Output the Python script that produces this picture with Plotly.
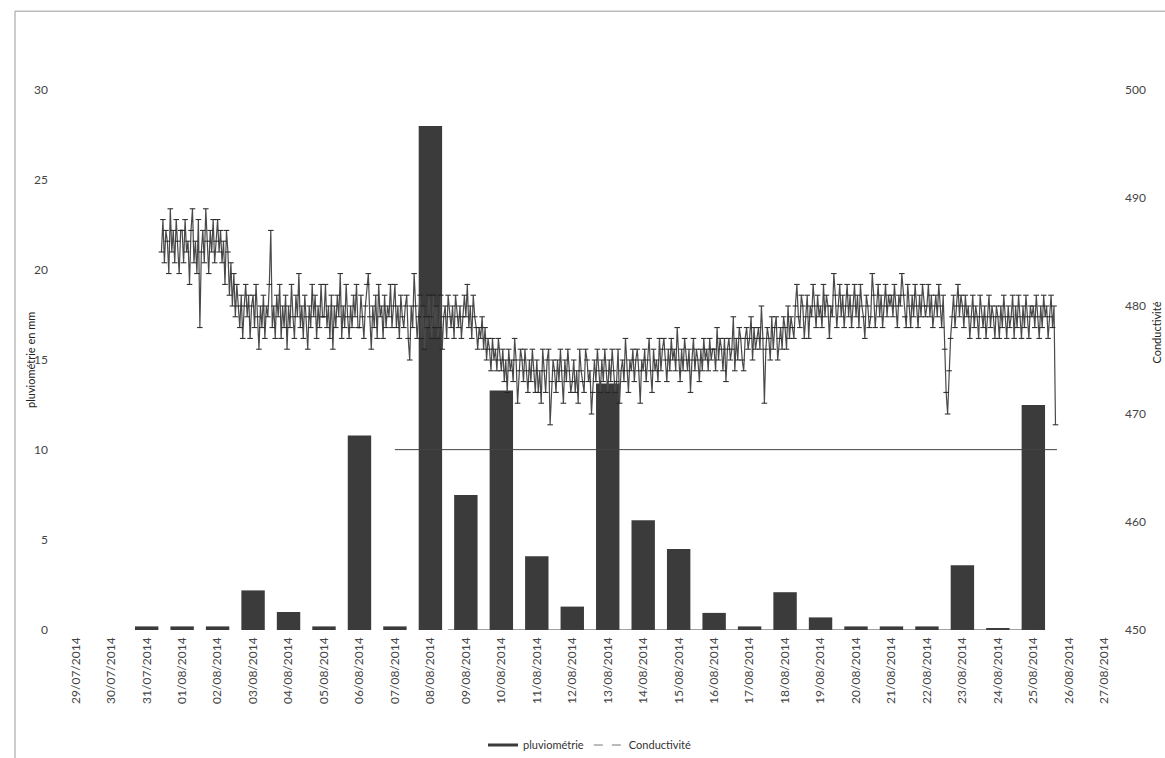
import pandas as pd
import plotly.graph_objects as go

# ---------------- data ----------------
jours = list(pd.date_range("2014-07-29", "2014-08-27", freq="D"))
etiquettes = [d.strftime("%d/%m/%Y") for d in jours]

pluviometrie = [0, 0, 0.2, 0.2, 0.2, 2.2, 1.0, 0.2, 10.8, 0.2,
                28.0, 7.5, 13.3, 4.1, 1.3, 13.7, 6.1, 4.5, 0.95, 0.2,
                2.1, 0.7, 0.2, 0.2, 0.2, 3.6, 0.1, 12.5, 0, 0]

# conductivity, hourly readings from 31/07 10:00 (one string per day)
cond_debut = "2014-07-31 10:00"
cond_jours = [
    "485 488 484 487 486 483 489 485 487 484 488 486 483 487",                               # 31/07
    "487 484 488 485 486 482 487 489 484 486 483 488 478 485 487 484 489 486 483 487 485 488 484 486",  # 01/08
    "488 485 487 484 486 482 487 485 481 484 480 483 479 482 480 478 481 477 480 482 479 481 477 480",  # 02/08
    "481 478 482 479 476 480 478 481 477 480 479 482 487 478 480 477 481 479 482 477 480 478 481 476",  # 03/08
    "480 478 482 479 477 481 479 483 478 480 477 481 479 476 480 478 482 479 481 477 480 478 482 479",  # 04/08
    "479 482 478 480 477 481 476 480 478 481 479 483 477 480 478 482 479 477 480 478 481 479 482 478",  # 05/08
    "478 481 479 477 480 482 483 479 476 480 478 481 477 482 479 480 477 481 478 480 479 482 478 480",  # 06/08
    "482 478 480 477 481 479 478 480 481 477 475 480 478 483 480 477 479 481 477 480 476 479 478 481",  # 07/08
    "479 477 481 478 480 477 478 481 476 479 480 477 481 479 478 480 477 481 479 478 480 477 479 481",  # 08/08
    "479 482 478 480 477 481 479 478 476 478 477 479 476 478 475 477 476 474 477 475 476 474 477 475",  # 09/08
    "474 476 473 475 472 476 474 475 473 477 475 471 474 476 475 473 476 474 472 475 473 476 474 472",  # 10/08
    "475 472 474 471 476 474 472 475 476 469 473 475 474 472 475 473 476 474 471 475 473 476 474 472",  # 11/08
    "473 475 472 474 471 476 474 473 472 476 475 473 474 470 472 475 473 476 474 472 475 473 476 474",  # 12/08
    "472 475 473 476 474 472 473 476 471 474 475 473 477 474 472 475 474 476 473 475 476 474 471 475",  # 13/08
    "474 476 473 475 477 474 472 476 474 475 473 477 474 476 477 475 473 476 474 477 475 476 474 478",  # 14/08
    "475 473 476 474 477 475 474 476 472 475 477 474 476 475 473 476 474 477 475 476 474 477 475 476",  # 15/08
    "476 474 478 475 477 476 474 477 473 476 477 475 476 479 474 477 475 478 477 475 474 477 478 476",  # 16/08
    "477 479 475 478 476 477 478 476 480 477 471 476 478 477 475 479 476 478 479 475 477 478 476 479",  # 17/08
    "478 476 480 477 479 478 477 480 482 479 478 481 480 477 479 481 477 480 479 482 480 478 481 479",  # 18/08
    "480 478 482 479 481 480 477 480 479 483 481 478 480 482 479 481 478 480 482 479 481 478 480 482",  # 19/08
    "479 481 478 482 480 479 477 481 480 478 479 483 481 478 480 482 479 481 478 480 482 479 481 480",  # 20/08
    "481 479 482 480 478 481 480 483 481 479 478 482 480 478 481 479 482 480 478 481 479 482 480 479",  # 21/08
    "480 482 479 481 478 480 481 479 482 480 478 481 476 472 470 474 477 479 481 478 480 482 479 481",  # 22/08
    "480 478 481 479 480 477 479 481 478 480 479 477 481 479 478 480 477 479 481 478 480 479 477 480",  # 23/08
    "479 477 480 478 481 479 477 480 478 479 481 477 480 478 481 479 477 480 478 481 479 477 480 479",  # 24/08
    "480 478 481 479 477 480 478 481 479 480 477 479 481 478 480 469",                            # 25/08
]
conductivite = [int(v) for jour in cond_jours for v in jour.split()]
cond_temps = list(pd.date_range(cond_debut, periods=len(conductivite), freq="h"))

# auxiliary straight segments seen in the chart (conductivity scale)
ligne_x = ["2014-08-07 00:00", "2014-08-25 16:00", None,
           "2014-08-08 12:00", "2014-08-25 00:00"]
ligne_y = [466.7, 466.7, None, 450, 450]

# ---------------- figure ----------------
bar_col = "#3b3b3b"
fig = go.Figure()

fig.add_trace(go.Bar(
    x=jours, y=pluviometrie, name="pluviométrie",
    marker=dict(color=bar_col, line=dict(width=0)),
    width=0.66 * 86400000, showlegend=False, yaxis="y",
))
fig.add_trace(go.Scatter(
    x=cond_temps, y=conductivite, name="Conductivité", yaxis="y2",
    mode="lines+markers",
    line=dict(color="#4a4a4a", width=1.2),
    marker=dict(symbol="line-ew", size=4, line=dict(color="#222", width=1)),
    showlegend=False,
))
fig.add_trace(go.Scatter(
    x=ligne_x, y=ligne_y, yaxis="y2", mode="lines",
    line=dict(color="#444", width=1), showlegend=False, hoverinfo="skip",
))
# legend entries
fig.add_trace(go.Scatter(x=[None], y=[None], mode="lines", name="pluviométrie",
                         line=dict(color=bar_col, width=3)))
fig.add_trace(go.Scatter(x=[None], y=[None], mode="lines", name="Conductivité",
                         line=dict(color="#777", width=1, dash="dash")))

tick_font = dict(family="Lato, 'Open Sans', sans-serif", size=12, color="#444")

fig.update_layout(
    width=1165, height=758,
    margin=dict(l=58, r=43, t=90, b=128, autoexpand=False),
    paper_bgcolor="white", plot_bgcolor="white",
    xaxis=dict(
        type="date", automargin=False,
        range=["2014-07-28 12:00", "2014-08-27 12:00"],
        tickvals=jours, ticktext=etiquettes, tickangle=-90,
        tickfont=tick_font, showgrid=False, zeroline=False, showline=False,
        ticks="", ticklabelstandoff=4,
    ),
    yaxis=dict(
        range=[0, 30], tickvals=[0, 5, 10, 15, 20, 25, 30], automargin=False,
        tickfont=tick_font, showgrid=False, zeroline=False, showline=False,
        ticks="", ticklabelstandoff=9,
    ),
    yaxis2=dict(
        range=[450, 500], tickvals=[450, 460, 470, 480, 490, 500],
        overlaying="y", side="right", automargin=False,
        tickfont=tick_font, showgrid=False, zeroline=False, showline=False,
        ticks="", ticklabelstandoff=2,
    ),
    legend=dict(orientation="h", x=0.5, xanchor="center", y=-0.213,
                yanchor="middle", font=dict(family="Lato, sans-serif", size=11, color="#333"),
                itemwidth=30, bgcolor="rgba(0,0,0,0)"),
    annotations=[
        dict(text="pluviométrie en mm", xref="paper", yref="paper",
             x=-0.0263, y=0.5, xanchor="center", yanchor="middle",
             textangle=-90, showarrow=False,
             font=dict(family="Lato, sans-serif", size=11, color="#222")),
        dict(text="Conductivité", xref="paper", yref="paper",
             x=1.0315, y=0.55, xanchor="center", yanchor="middle",
             textangle=-90, showarrow=False,
             font=dict(family="Lato, sans-serif", size=11, color="#222")),
    ],
    shapes=[
        dict(type="rect", xref="paper", yref="paper",
             x0=-0.0404, x1=1.045, y0=-0.3, y1=1.146,
             line=dict(color="#999", width=1), fillcolor="rgba(0,0,0,0)", layer="below"),
    ],
    showlegend=True,
)

fig.write_html("out.html", config={"displayModeBar": False},
               post_script="document.body.style.margin='0';document.body.style.overflow='hidden';")
